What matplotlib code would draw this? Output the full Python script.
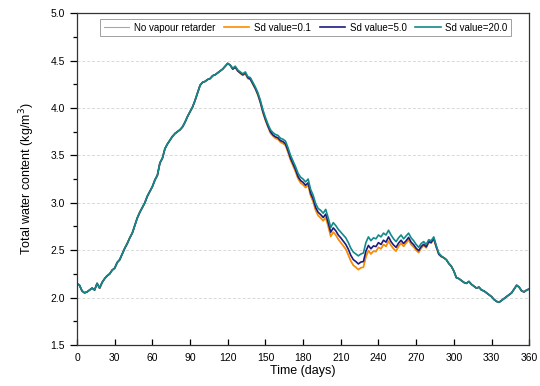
import matplotlib
matplotlib.use("Agg")
import matplotlib.pyplot as plt
from matplotlib.ticker import MultipleLocator

plt.rcParams['font.family'] = ['Liberation Sans', 'DejaVu Sans']

# days, every 2 days
days = list(range(0, 361, 2))

# Sd value = 20.0 (teal, drawn on top)
sd20 = [
    2.15, 2.13, 2.07, 2.05, 2.06, 2.08, 2.10, 2.08, 2.15, 2.10,   # 0-18
    2.16, 2.20, 2.23, 2.25, 2.29, 2.31, 2.37, 2.40, 2.46, 2.52,   # 20-38
    2.57, 2.63, 2.68, 2.76, 2.84, 2.90, 2.95, 3.00, 3.07, 3.12,   # 40-58
    3.17, 3.24, 3.29, 3.42, 3.47, 3.57, 3.62, 3.66, 3.70, 3.73,   # 60-78
    3.75, 3.77, 3.80, 3.85, 3.91, 3.96, 4.01, 4.08, 4.16, 4.24,   # 80-98
    4.27, 4.28, 4.30, 4.31, 4.34, 4.35, 4.37, 4.39, 4.41, 4.44,   # 100-118
    4.47, 4.45, 4.42, 4.44, 4.40, 4.38, 4.36, 4.38, 4.33, 4.32,   # 120-138
    4.27, 4.22, 4.16, 4.08, 3.98, 3.90, 3.83, 3.77, 3.74, 3.72,   # 140-158
    3.71, 3.68, 3.67, 3.65, 3.58, 3.50, 3.44, 3.38, 3.31, 3.27,   # 160-178
    3.25, 3.22, 3.25, 3.14, 3.08, 2.99, 2.94, 2.92, 2.89, 2.93,   # 180-198
    2.84, 2.74, 2.79, 2.76, 2.72, 2.69, 2.66, 2.63, 2.58, 2.52,   # 200-218
    2.48, 2.46, 2.44, 2.46, 2.47, 2.58, 2.64, 2.60, 2.63, 2.62,   # 220-238
    2.66, 2.64, 2.68, 2.66, 2.71, 2.66, 2.62, 2.59, 2.63, 2.66,   # 240-258
    2.62, 2.65, 2.68, 2.63, 2.60, 2.56, 2.53, 2.57, 2.59, 2.56,   # 260-278
    2.61, 2.60, 2.64, 2.55, 2.47, 2.44, 2.42, 2.40, 2.36, 2.33,   # 280-298
    2.28, 2.21, 2.20, 2.18, 2.16, 2.15, 2.17, 2.14, 2.12, 2.10,   # 300-318
    2.11, 2.08, 2.07, 2.05, 2.03, 2.01, 1.98, 1.96, 1.95, 1.97,   # 320-338
    1.99, 2.01, 2.03, 2.05, 2.09, 2.13, 2.11, 2.07, 2.06, 2.08,   # 340-358
    2.09,                                                         # 360
]

# days 124-290 where the curves separate
sd01_mid = [
    4.41, 4.43, 4.39, 4.365, 4.345, 4.36, 4.31, 4.30, 4.25, 4.20,
    4.135, 4.055, 3.95, 3.87, 3.80, 3.735, 3.705, 3.68, 3.67, 3.64,
    3.625, 3.605, 3.53, 3.45, 3.39, 3.325, 3.255, 3.21, 3.19, 3.16,
    3.185, 3.075, 3.01, 2.92, 2.865, 2.84, 2.81, 2.845, 2.75, 2.645,
    2.69, 2.66, 2.615, 2.58, 2.545, 2.51, 2.45, 2.385, 2.34, 2.32,
    2.295, 2.315, 2.32, 2.43, 2.495, 2.46, 2.49, 2.485, 2.53, 2.515,
    2.56, 2.54, 2.595, 2.55, 2.515, 2.49, 2.54, 2.575, 2.54, 2.575,
    2.61, 2.56, 2.535, 2.50, 2.475, 2.52, 2.55, 2.525, 2.58, 2.575,
    2.62, 2.53, 2.455, 2.43,
]
sd50_mid = [
    4.41, 4.43, 4.39, 4.37, 4.35, 4.37, 4.32, 4.305, 4.255, 4.205,
    4.145, 4.06, 3.96, 3.88, 3.81, 3.75, 3.715, 3.695, 3.685, 3.655,
    3.645, 3.62, 3.55, 3.47, 3.41, 3.35, 3.275, 3.235, 3.215, 3.185,
    3.21, 3.10, 3.04, 2.95, 2.90, 2.875, 2.845, 2.88, 2.79, 2.69,
    2.735, 2.705, 2.66, 2.63, 2.595, 2.56, 2.51, 2.445, 2.40, 2.38,
    2.355, 2.375, 2.38, 2.49, 2.55, 2.515, 2.545, 2.538, 2.58, 2.56,
    2.605, 2.585, 2.64, 2.59, 2.555, 2.53, 2.575, 2.605, 2.57, 2.60,
    2.635, 2.585, 2.558, 2.52, 2.495, 2.538, 2.562, 2.535, 2.59, 2.582,
    2.625, 2.538, 2.46, 2.435,
]

sd01 = sd20[:62] + sd01_mid + sd20[146:]
sd50 = sd20[:62] + sd50_mid + sd20[146:]
no_retarder = sd20[:62] + sd01_mid + sd20[146:]

fig = plt.figure(figsize=(5.4, 3.86), dpi=100)
ax = fig.add_axes([0.1426, 0.1062, 0.8374, 0.8598])

ax.plot(days, no_retarder, color='#a8a8a8', lw=0.8, label='No vapour retarder')
ax.plot(days, sd01, color='#ff8c00', lw=1.2, label='Sd value=0.1')
ax.plot(days, sd50, color='#1c1c80', lw=1.2, label='Sd value=5.0')
ax.plot(days, sd20, color='#128a8a', lw=1.2, label='Sd value=20.0')

ax.set_xlim(0, 360)
ax.set_ylim(1.5, 5.0)
ax.xaxis.set_major_locator(MultipleLocator(30))
ax.yaxis.set_major_locator(MultipleLocator(0.5))
ax.yaxis.set_minor_locator(MultipleLocator(0.25))
ax.yaxis.set_major_formatter(plt.FormatStrFormatter('%.1f'))

ax.tick_params(axis='x', direction='in', length=4, width=0.9, labelsize=7.5, pad=6)
ax.tick_params(axis='y', which='major', direction='out', length=5, width=0.9, labelsize=7.5)
ax.tick_params(axis='y', which='minor', direction='out', length=3, width=0.9)
for s in ax.spines.values():
    s.set_linewidth(0.9)
    s.set_color('#333333')

ax.grid(axis='y', which='major', color='#d8d8d8', linestyle=(0, (3, 2)), linewidth=0.7)
ax.set_axisbelow(True)

ax.set_xlabel('Time (days)', fontsize=9, labelpad=1)
ax.set_ylabel('Total water content (kg/m$^3$)', fontsize=9, labelpad=10)

leg = ax.legend(loc='upper right', bbox_to_anchor=(0.96, 0.982), ncol=4,
                fontsize=7, frameon=True, fancybox=False, handlelength=2.6,
                columnspacing=0.9, handletextpad=0.5, borderpad=0.35, borderaxespad=0)
leg.get_frame().set_edgecolor('#888888')
leg.get_frame().set_linewidth(0.7)

fig.savefig('out.png', dpi=100)
